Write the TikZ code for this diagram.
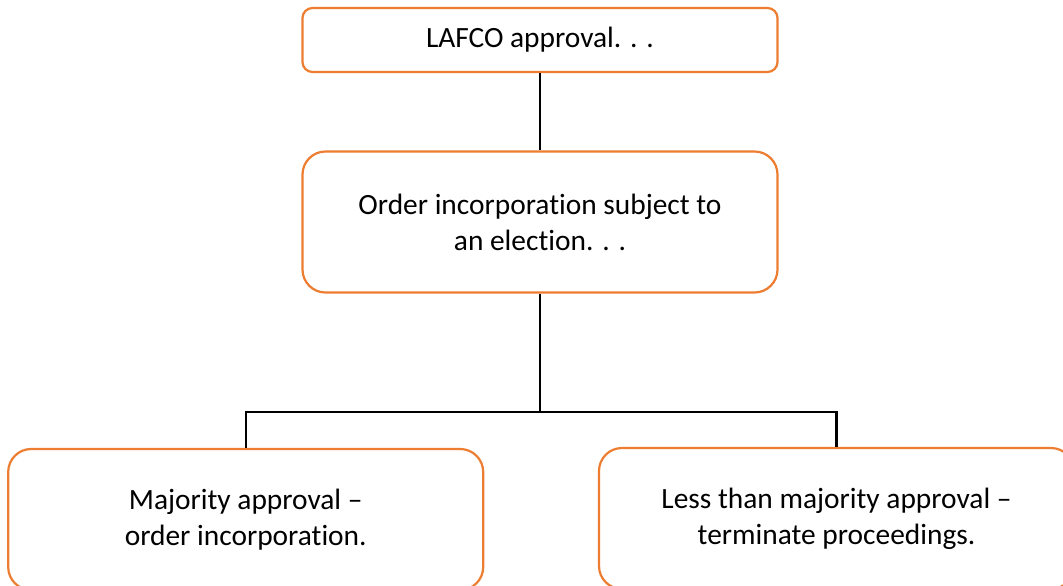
\documentclass[tikz,border=0pt]{standalone}
\usepackage{fontspec}
\setmainfont{Carlito}[Ligatures=NoCommon]
\definecolor{boxorange}{HTML}{ED7D31}
\begin{document}
\begin{tikzpicture}[x=1pt,y=-1pt,
  box/.style={draw=boxorange, line width=2.2pt, fill=white, rectangle,
    minimum width=475pt, align=center, inner sep=0pt,
    font=\fontsize{29.4}{36}\selectfont},
  conn/.style={draw=black, line width=2.2pt}]
\clip (0,0) rectangle (1063,586);
\fill[white] (0,0) rectangle (1063,586);
\node[box, minimum height=64pt, rounded corners=10pt] (top) at (540,40) {LAFCO approval. . .};
\node[box, minimum height=141pt, rounded corners=23pt] (mid) at (540,222) {Order incorporation subject to\\an election. . .};
\node[box, minimum height=141pt, rounded corners=23pt] (left) at (245.7,519.5) {Majority approval –\\order incorporation.};
\node[box, minimum height=141pt, rounded corners=23pt] (right) at (836.5,518.5) {Less than majority approval –\\terminate proceedings.};
\coordinate (j) at (540,411.7);
\draw[conn] (top) -- (mid);
\draw[conn] (mid.south) -- (j);
\draw[conn] (left.north) |- (j) -| (right.north);
\end{tikzpicture}
\end{document}
